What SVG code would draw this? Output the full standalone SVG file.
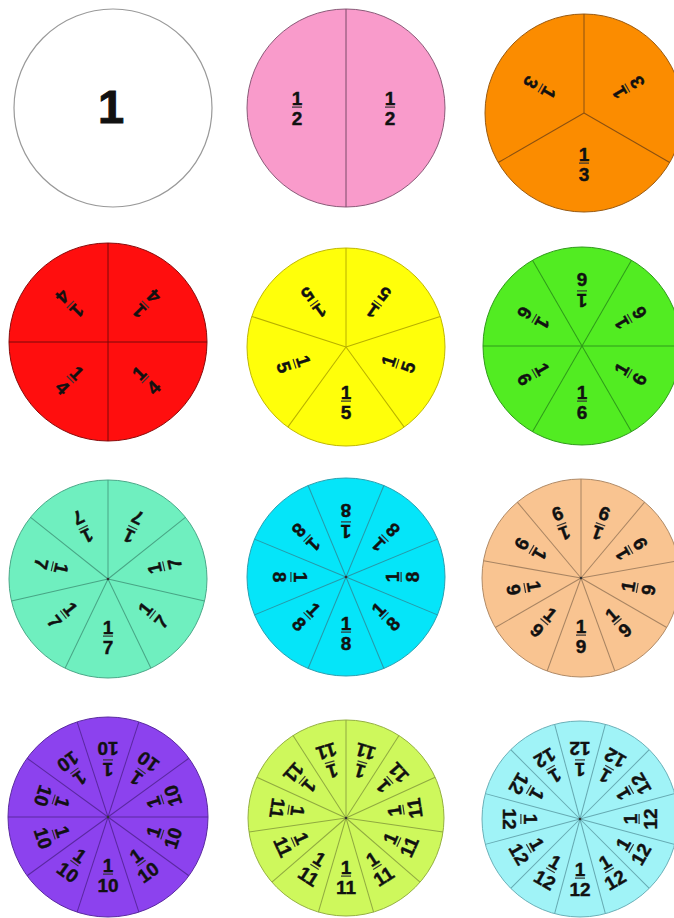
<svg xmlns="http://www.w3.org/2000/svg" xmlns:xlink="http://www.w3.org/1999/xlink" width="674" height="918" viewBox="0 0 674 918">
<style>
text{font-family:"Liberation Sans",Arial,sans-serif;font-weight:bold;font-size:19px;text-anchor:middle;fill:#111;stroke:#111;stroke-width:0.4}
.big{font-size:47px;stroke-width:1}
.bar{fill:#333}
.dot{fill:#333}
line{stroke-width:1}
</style>
<defs>
<g id="f2"><text y="-3.5">1</text><rect class="bar" x="-5" y="-1.5" width="10" height="1.2"/><text y="17">2</text></g>
<g id="f3"><text y="-3.5">1</text><rect class="bar" x="-5" y="-1.5" width="10" height="1.2"/><text y="17">3</text></g>
<g id="f4"><text y="-3.5">1</text><rect class="bar" x="-5" y="-1.5" width="10" height="1.2"/><text y="17">4</text></g>
<g id="f5"><text y="-3.5">1</text><rect class="bar" x="-5" y="-1.5" width="10" height="1.2"/><text y="17">5</text></g>
<g id="f6"><text y="-3.5">1</text><rect class="bar" x="-5" y="-1.5" width="10" height="1.2"/><text y="17">6</text></g>
<g id="f7"><text y="-3.5">1</text><rect class="bar" x="-5" y="-1.5" width="10" height="1.2"/><text y="17">7</text></g>
<g id="f8"><text y="-3.5">1</text><rect class="bar" x="-5" y="-1.5" width="10" height="1.2"/><text y="17">8</text></g>
<g id="f9"><text y="-3.5">1</text><rect class="bar" x="-5" y="-1.5" width="10" height="1.2"/><text y="17">9</text></g>
<g id="f10"><text y="-3.5">1</text><rect class="bar" x="-5" y="-1.5" width="10" height="1.2"/><text y="17">10</text></g>
<g id="f11"><text y="-3.5">1</text><rect class="bar" x="-5" y="-1.5" width="10" height="1.2"/><text y="17">11</text></g>
<g id="f12"><text y="-3.5">1</text><rect class="bar" x="-5" y="-1.5" width="10" height="1.2"/><text y="17">12</text></g>
</defs>
<rect width="674" height="918" fill="#fff"/>

<g id="whole" transform="translate(113,108)">
<circle r="99" fill="#fff" stroke="#999" stroke-width="1.2"/>
<text class="big" x="-2" y="15">1</text>
</g>

<g id="halves" transform="translate(346,108)">
<circle r="99" fill="#F99BCB" stroke="#8a5a78"/>
<line y1="-99" y2="99" stroke="#7a4a68"/>
<use href="#f2" x="-49" y="0"/>
<use href="#f2" x="44" y="0"/>
</g>

<g id="thirds" transform="translate(584,113)">
<circle r="99" fill="#FB8C00" stroke="#9a5a10"/>
<g stroke="#8a5010"><line x2="99" transform="rotate(30)"/><line x2="99" transform="rotate(150)"/><line x2="99" transform="rotate(270)"/></g>
<use href="#f3" transform="rotate(0) translate(0,51)"/>
<use href="#f3" transform="rotate(120) translate(0,51)"/>
<use href="#f3" transform="rotate(240) translate(0,51)"/>
</g>

<g id="quarters" transform="translate(108,342)">
<circle r="99" fill="#FF0E0E" stroke="#8a0a0a"/>
<g stroke="#7a0808"><line x2="99"/><line x2="99" transform="rotate(90)"/><line x2="99" transform="rotate(180)"/><line x2="99" transform="rotate(270)"/></g>
<use href="#f4" transform="rotate(-45) translate(0,54)"/>
<use href="#f4" transform="rotate(45) translate(0,54)"/>
<use href="#f4" transform="rotate(135) translate(0,54)"/>
<use href="#f4" transform="rotate(225) translate(0,54)"/>
</g>

<g id="fifths" transform="translate(346,347)">
<circle r="99" fill="#FFFF0A" stroke="#c0b800"/>
<g stroke="#b8b000"><line x2="99" transform="rotate(54)"/><line x2="99" transform="rotate(126)"/><line x2="99" transform="rotate(198)"/><line x2="99" transform="rotate(270)"/><line x2="99" transform="rotate(342)"/></g>
<use href="#f5" transform="rotate(0) translate(0,55)"/>
<use href="#f5" transform="rotate(72) translate(0,55)"/>
<use href="#f5" transform="rotate(144) translate(0,55)"/>
<use href="#f5" transform="rotate(216) translate(0,55)"/>
<use href="#f5" transform="rotate(288) translate(0,55)"/>
</g>

<g id="sixths" transform="translate(582,346)">
<circle r="99" fill="#52EC22" stroke="#2f9a1a"/>
<g stroke="#2e9a1a"><line x2="99"/><line x2="99" transform="rotate(60)"/><line x2="99" transform="rotate(120)"/><line x2="99" transform="rotate(180)"/><line x2="99" transform="rotate(240)"/><line x2="99" transform="rotate(300)"/></g>
<use href="#f6" transform="rotate(0) translate(0,56)"/>
<use href="#f6" transform="rotate(60) translate(0,56)"/>
<use href="#f6" transform="rotate(120) translate(0,56)"/>
<use href="#f6" transform="rotate(180) translate(0,56)"/>
<use href="#f6" transform="rotate(240) translate(0,56)"/>
<use href="#f6" transform="rotate(300) translate(0,56)"/>
</g>

<g id="sevenths" transform="translate(108,579)">
<circle r="99" fill="#6FEFBF" stroke="#4aa888"/>
<g stroke="#48a585"><line x2="99" transform="rotate(115.714)"/><line x2="99" transform="rotate(167.143)"/><line x2="99" transform="rotate(218.571)"/><line x2="99" transform="rotate(270)"/><line x2="99" transform="rotate(321.429)"/><line x2="99" transform="rotate(12.857)"/><line x2="99" transform="rotate(64.286)"/></g>
<circle class="dot" r="1.3"/>
<use href="#f7" transform="rotate(0) translate(0,58)"/>
<use href="#f7" transform="rotate(51.429) translate(0,58)"/>
<use href="#f7" transform="rotate(102.857) translate(0,58)"/>
<use href="#f7" transform="rotate(154.286) translate(0,58)"/>
<use href="#f7" transform="rotate(205.714) translate(0,58)"/>
<use href="#f7" transform="rotate(257.143) translate(0,58)"/>
<use href="#f7" transform="rotate(308.571) translate(0,58)"/>
</g>

<g id="eighths" transform="translate(346,577)">
<circle r="99" fill="#05E5F9" stroke="#2aa0b0"/>
<g stroke="#2898a8"><line x2="99" transform="rotate(22.5)"/><line x2="99" transform="rotate(67.5)"/><line x2="99" transform="rotate(112.5)"/><line x2="99" transform="rotate(157.5)"/><line x2="99" transform="rotate(202.5)"/><line x2="99" transform="rotate(247.5)"/><line x2="99" transform="rotate(292.5)"/><line x2="99" transform="rotate(337.5)"/></g>
<circle class="dot" r="1.3"/>
<use href="#f8" transform="rotate(0) translate(0,56)"/>
<use href="#f8" transform="rotate(45) translate(0,56)"/>
<use href="#f8" transform="rotate(90) translate(0,56)"/>
<use href="#f8" transform="rotate(135) translate(0,56)"/>
<use href="#f8" transform="rotate(180) translate(0,56)"/>
<use href="#f8" transform="rotate(225) translate(0,56)"/>
<use href="#f8" transform="rotate(270) translate(0,56)"/>
<use href="#f8" transform="rotate(315) translate(0,56)"/>
</g>

<g id="ninths" transform="translate(581,578)">
<circle r="99" fill="#F9C491" stroke="#b08a66"/>
<g stroke="#a88462"><line x2="99" transform="rotate(110)"/><line x2="99" transform="rotate(150)"/><line x2="99" transform="rotate(190)"/><line x2="99" transform="rotate(230)"/><line x2="99" transform="rotate(270)"/><line x2="99" transform="rotate(310)"/><line x2="99" transform="rotate(350)"/><line x2="99" transform="rotate(30)"/><line x2="99" transform="rotate(70)"/></g>
<circle class="dot" r="1.3"/>
<use href="#f9" transform="rotate(0) translate(0,58)"/>
<use href="#f9" transform="rotate(40) translate(0,58)"/>
<use href="#f9" transform="rotate(80) translate(0,58)"/>
<use href="#f9" transform="rotate(120) translate(0,58)"/>
<use href="#f9" transform="rotate(160) translate(0,58)"/>
<use href="#f9" transform="rotate(200) translate(0,58)"/>
<use href="#f9" transform="rotate(240) translate(0,58)"/>
<use href="#f9" transform="rotate(280) translate(0,58)"/>
<use href="#f9" transform="rotate(320) translate(0,58)"/>
</g>

<g id="tenths" transform="translate(108,817)">
<circle r="100" fill="#8C42EE" stroke="#5a2aa0"/>
<g stroke="#5a28a0"><line x2="100"/><line x2="100" transform="rotate(36)"/><line x2="100" transform="rotate(72)"/><line x2="100" transform="rotate(108)"/><line x2="100" transform="rotate(144)"/><line x2="100" transform="rotate(180)"/><line x2="100" transform="rotate(216)"/><line x2="100" transform="rotate(252)"/><line x2="100" transform="rotate(288)"/><line x2="100" transform="rotate(324)"/></g>
<circle class="dot" r="1.3"/>
<use href="#f10" transform="rotate(0) translate(0,58)"/>
<use href="#f10" transform="rotate(36) translate(0,58)"/>
<use href="#f10" transform="rotate(72) translate(0,58)"/>
<use href="#f10" transform="rotate(108) translate(0,58)"/>
<use href="#f10" transform="rotate(144) translate(0,58)"/>
<use href="#f10" transform="rotate(180) translate(0,58)"/>
<use href="#f10" transform="rotate(216) translate(0,58)"/>
<use href="#f10" transform="rotate(252) translate(0,58)"/>
<use href="#f10" transform="rotate(288) translate(0,58)"/>
<use href="#f10" transform="rotate(324) translate(0,58)"/>
</g>

<g id="elevenths" transform="translate(346,818)">
<circle r="98" fill="#CEF85C" stroke="#94b040"/>
<g stroke="#90aa40"><line x2="98" transform="rotate(106.364)"/><line x2="98" transform="rotate(139.091)"/><line x2="98" transform="rotate(171.818)"/><line x2="98" transform="rotate(204.545)"/><line x2="98" transform="rotate(237.273)"/><line x2="98" transform="rotate(270)"/><line x2="98" transform="rotate(302.727)"/><line x2="98" transform="rotate(335.455)"/><line x2="98" transform="rotate(8.182)"/><line x2="98" transform="rotate(40.909)"/><line x2="98" transform="rotate(73.636)"/></g>
<circle class="dot" r="1.3"/>
<use href="#f11" transform="rotate(0) translate(0,59)"/>
<use href="#f11" transform="rotate(32.727) translate(0,59)"/>
<use href="#f11" transform="rotate(65.455) translate(0,59)"/>
<use href="#f11" transform="rotate(98.182) translate(0,59)"/>
<use href="#f11" transform="rotate(130.909) translate(0,59)"/>
<use href="#f11" transform="rotate(163.636) translate(0,59)"/>
<use href="#f11" transform="rotate(196.364) translate(0,59)"/>
<use href="#f11" transform="rotate(229.091) translate(0,59)"/>
<use href="#f11" transform="rotate(261.818) translate(0,59)"/>
<use href="#f11" transform="rotate(294.545) translate(0,59)"/>
<use href="#f11" transform="rotate(327.273) translate(0,59)"/>
</g>

<g id="twelfths" transform="translate(580,819)">
<circle r="98" fill="#A0F3F7" stroke="#6ab0b8"/>
<g stroke="#66aab2"><line x2="98" transform="rotate(15)"/><line x2="98" transform="rotate(45)"/><line x2="98" transform="rotate(75)"/><line x2="98" transform="rotate(105)"/><line x2="98" transform="rotate(135)"/><line x2="98" transform="rotate(165)"/><line x2="98" transform="rotate(195)"/><line x2="98" transform="rotate(225)"/><line x2="98" transform="rotate(255)"/><line x2="98" transform="rotate(285)"/><line x2="98" transform="rotate(315)"/><line x2="98" transform="rotate(345)"/></g>
<circle class="dot" r="1.3"/>
<use href="#f12" transform="rotate(0) translate(0,60)"/>
<use href="#f12" transform="rotate(30) translate(0,60)"/>
<use href="#f12" transform="rotate(60) translate(0,60)"/>
<use href="#f12" transform="rotate(90) translate(0,60)"/>
<use href="#f12" transform="rotate(120) translate(0,60)"/>
<use href="#f12" transform="rotate(150) translate(0,60)"/>
<use href="#f12" transform="rotate(180) translate(0,60)"/>
<use href="#f12" transform="rotate(210) translate(0,60)"/>
<use href="#f12" transform="rotate(240) translate(0,60)"/>
<use href="#f12" transform="rotate(270) translate(0,60)"/>
<use href="#f12" transform="rotate(300) translate(0,60)"/>
<use href="#f12" transform="rotate(330) translate(0,60)"/>
</g>
</svg>
